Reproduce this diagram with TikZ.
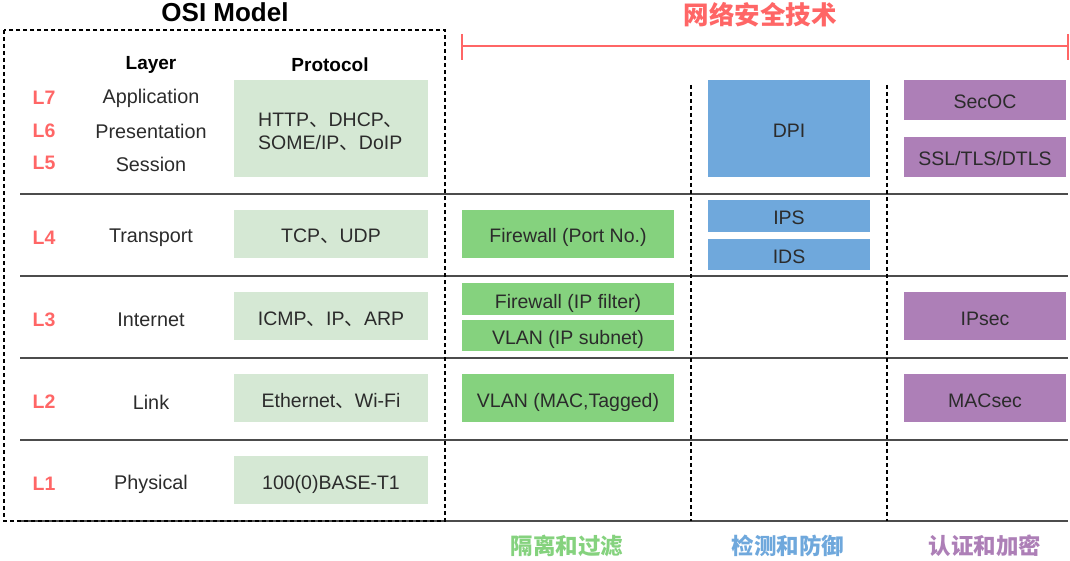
\documentclass[tikz,border=0pt]{standalone}
\usepackage{fontspec}
\setmainfont{Liberation Sans}
\newfontfamily\cjk{Noto Sans CJK SC}
\newcommand{\dun}{{\cjk 、}}
\definecolor{titlered}{HTML}{FF6666}
\definecolor{lightgreen}{HTML}{D5E8D4}
\definecolor{boxgreen}{HTML}{85D27E}
\definecolor{boxblue}{HTML}{6FA8DC}
\definecolor{boxpurple}{HTML}{AD7FB7}
\definecolor{textgray}{HTML}{2B2B2B}
\tikzset{
  cell/.style={rectangle, inner sep=0pt, text=textgray, font=\fontsize{19.5}{23}\selectfont},
  boxtext/.style={cell, text height=18pt, text depth=0pt},
  protobox/.style={boxtext, fill=lightgreen, minimum width=194pt},
  isobox/.style={boxtext, fill=boxgreen, minimum width=212pt},
  detbox/.style={boxtext, fill=boxblue, minimum width=162pt},
  encbox/.style={boxtext, fill=boxpurple, minimum width=162pt},
  layernum/.style={text=titlered, font=\bfseries\fontsize{19.5}{23}\selectfont},
  layername/.style={text=textgray, font=\fontsize{19.8}{23}\selectfont},
  rowline/.style={line width=1.6pt, black!70},
  colline/.style={line width=1.4pt, dash pattern=on 4pt off 3pt}
}
\begin{document}
\begin{tikzpicture}[x=1pt,y=-1pt]
\useasboundingbox (0,0) rectangle (1070,561);
% titles
\node[font=\bfseries\fontsize{26}{30}\selectfont] (osi) at (225,12) {OSI Model};
\node[text=titlered, font=\cjk\bfseries\fontsize{25.5}{30}\selectfont] (sec) at (760,15) {网络安全技术};
\draw[titlered, line width=1.5pt] (462,46) -- (1068,46);
\draw[titlered, line width=1.5pt] (462,34) -- (462,60);
\draw[titlered, line width=1.5pt] (1068,34) -- (1068,60);
% table lines
\foreach \y in {194,276,358,440,521}
  \draw[rowline] (20,\y) -- (1068,\y);
\draw[colline] (4,30) rectangle (445,521);
\draw[colline] (691,85) -- (691,521);
\draw[colline] (887,85) -- (887,521);
% headers
\node[font=\bfseries\fontsize{19}{22}\selectfont] (hlayer) at (151,65) {Layer};
\node[font=\bfseries\fontsize{19}{22}\selectfont] (hproto) at (330,65) {Protocol};
% layers
\node[layernum] (l7) at (44,98) {L7};
\node[layernum] (l6) at (44,131) {L6};
\node[layernum] (l5) at (44,163) {L5};
\node[layernum] (l4) at (44,238) {L4};
\node[layernum] (l3) at (44,320) {L3};
\node[layernum] (l2) at (44,402) {L2};
\node[layernum] (l1) at (44,484) {L1};
\node[layername] (app) at (151,98) {Application};
\node[layername] (pres) at (151,131) {Presentation};
\node[layername] (sess) at (151,164) {Session};
\node[layername] (trans) at (151,238) {Transport};
\node[layername] (inet) at (151,320) {Internet};
\node[layername] (link) at (151,402) {Link};
\node[layername] (phy) at (151,484) {Physical};
% protocols
\node[protobox, minimum height=97pt] (p7) at (331,128.5) {};
\node[cell, align=left, anchor=west] (p7txt) at (258,131.5) {HTTP\dun DHCP\dun\\SOME/IP\dun DoIP};
\node[protobox, minimum height=48pt] (p4) at (331,234) {TCP\dun UDP};
\node[protobox, minimum height=48pt] (p3) at (331,316) {ICMP\dun IP\dun ARP};
\node[protobox, minimum height=48pt] (p2) at (331,398) {Ethernet\dun Wi-Fi};
\node[protobox, minimum height=48pt] (p1) at (331,480) {100(0)BASE-T1};
% isolation and filtering
\node[isobox, minimum height=48pt] (fwport) at (568,234) {Firewall (Port No.)};
\node[isobox, minimum height=32pt] (fwip) at (568,299) {Firewall (IP filter)};
\node[isobox, minimum height=31pt] (vlanip) at (568,335.5) {VLAN (IP subnet)};
\node[isobox, minimum height=48pt] (vlanmac) at (568,398) {VLAN (MAC,Tagged)};
% detection and defence
\node[detbox, minimum height=97pt] (dpi) at (789,128.5) {DPI};
\node[detbox, minimum height=32pt] (ips) at (789,216) {IPS};
\node[detbox, minimum height=31pt] (ids) at (789,254.5) {IDS};
% authentication and encryption
\node[encbox, minimum height=40pt] (secoc) at (985,100) {SecOC};
\node[encbox, minimum height=40pt] (ssl) at (985,157) {SSL/TLS/DTLS};
\node[encbox, minimum height=48pt] (ipsec) at (985,316) {IPsec};
\node[encbox, minimum height=48pt] (macsec) at (985,398) {MACsec};
% column labels
\node[text=boxgreen, font=\cjk\bfseries\fontsize{22.5}{26}\selectfont] (ciso) at (567,546) {隔离和过滤};
\node[text=boxblue, font=\cjk\bfseries\fontsize{22.5}{26}\selectfont] (cdet) at (788,546) {检测和防御};
\node[text=boxpurple, font=\cjk\bfseries\fontsize{22.5}{26}\selectfont] (cenc) at (985,546) {认证和加密};
\end{tikzpicture}
\end{document}
